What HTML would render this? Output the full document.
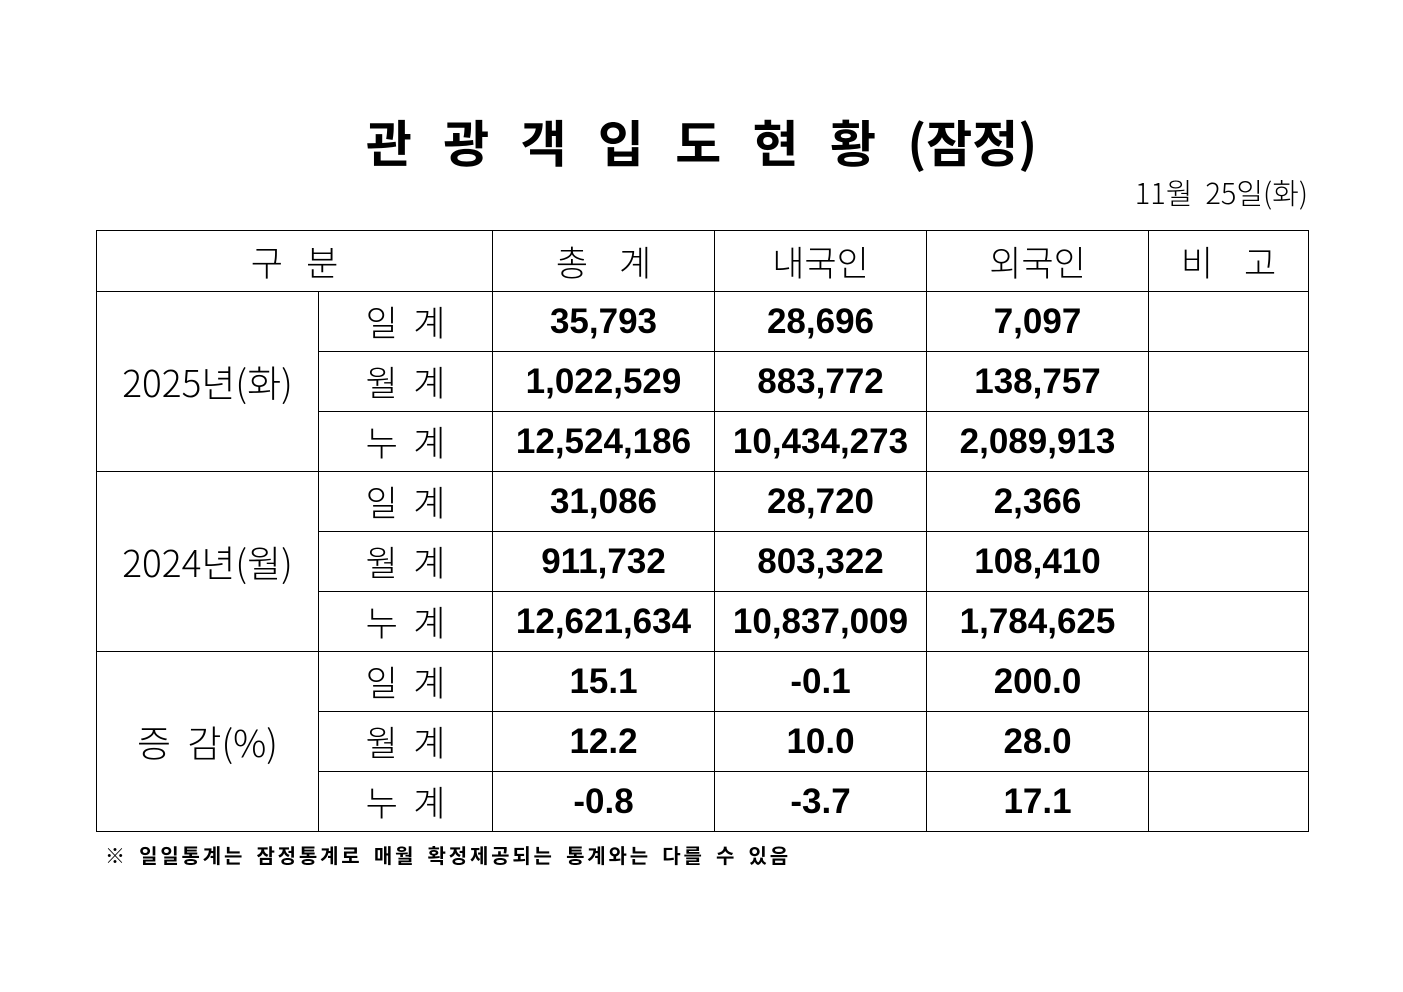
<!DOCTYPE html>
<html><head><meta charset="utf-8"><style>
body{margin:0;width:1403px;height:992px;background:#fff;position:relative;font-family:"Liberation Sans","Noto Sans CJK KR",sans-serif;color:#000;overflow:hidden}
.t{position:absolute;white-space:nowrap}
table{position:absolute;left:96px;top:230px;border-collapse:collapse;table-layout:fixed}
td{border:1px solid #000;padding:0;text-align:center;vertical-align:middle;height:59px;font-size:33px;line-height:1}
td.n{font-weight:bold;font-size:35px;letter-spacing:0}
td.k{font-family:"Noto Sans CJK KR",sans-serif;font-size:35px;font-weight:300}
td.y{font-family:"Noto Sans CJK KR",sans-serif;font-size:37px;font-weight:300}
</style></head><body>
<div class="t" style="left:0;width:1403px;text-align:center;top:116px;font-family:'Noto Sans CJK KR',sans-serif;font-weight:bold;font-size:50px;word-spacing:20px;line-height:1">관 광 객 입 도 현 황 (잠정)</div>
<div class="t" style="right:95px;top:178px;font-family:'Noto Sans CJK KR',sans-serif;font-size:29px;font-weight:300;line-height:1">11월&nbsp;&nbsp;25일(화)</div>
<table>
<colgroup><col style="width:222px"><col style="width:174px"><col style="width:222px"><col style="width:212px"><col style="width:222px"><col style="width:160px"></colgroup>
<tr><td colspan="2" class="k" style="height:60px">구&nbsp;&nbsp;&nbsp;분</td><td class="k">총&nbsp;&nbsp;&nbsp;&nbsp;계</td><td class="k">내국인</td><td class="k">외국인</td><td class="k">비&nbsp;&nbsp;&nbsp;&nbsp;고</td></tr>
<tr><td rowspan="3" class="y">2025년(화)</td><td class="k">일&nbsp;&nbsp;계</td><td class="n">35,793</td><td class="n">28,696</td><td class="n">7,097</td><td></td></tr>
<tr><td class="k">월&nbsp;&nbsp;계</td><td class="n">1,022,529</td><td class="n">883,772</td><td class="n">138,757</td><td></td></tr>
<tr><td class="k">누&nbsp;&nbsp;계</td><td class="n">12,524,186</td><td class="n">10,434,273</td><td class="n">2,089,913</td><td></td></tr>
<tr><td rowspan="3" class="y">2024년(월)</td><td class="k">일&nbsp;&nbsp;계</td><td class="n">31,086</td><td class="n">28,720</td><td class="n">2,366</td><td></td></tr>
<tr><td class="k">월&nbsp;&nbsp;계</td><td class="n">911,732</td><td class="n">803,322</td><td class="n">108,410</td><td></td></tr>
<tr><td class="k">누&nbsp;&nbsp;계</td><td class="n">12,621,634</td><td class="n">10,837,009</td><td class="n">1,784,625</td><td></td></tr>
<tr><td rowspan="3" class="y">증&nbsp;&nbsp;감(%)</td><td class="k">일&nbsp;&nbsp;계</td><td class="n">15.1</td><td class="n">-0.1</td><td class="n">200.0</td><td></td></tr>
<tr><td class="k">월&nbsp;&nbsp;계</td><td class="n">12.2</td><td class="n">10.0</td><td class="n">28.0</td><td></td></tr>
<tr><td class="k">누&nbsp;&nbsp;계</td><td class="n">-0.8</td><td class="n">-3.7</td><td class="n">17.1</td><td></td></tr>
</table>
<div class="t" style="left:105px;top:845px;font-family:'Noto Sans CJK KR',sans-serif;font-weight:bold;font-size:20px;letter-spacing:2.8px;word-spacing:4px;line-height:1">※ 일일통계는 잠정통계로 매월 확정제공되는 통계와는 다를 수 있음</div>
</body></html>
